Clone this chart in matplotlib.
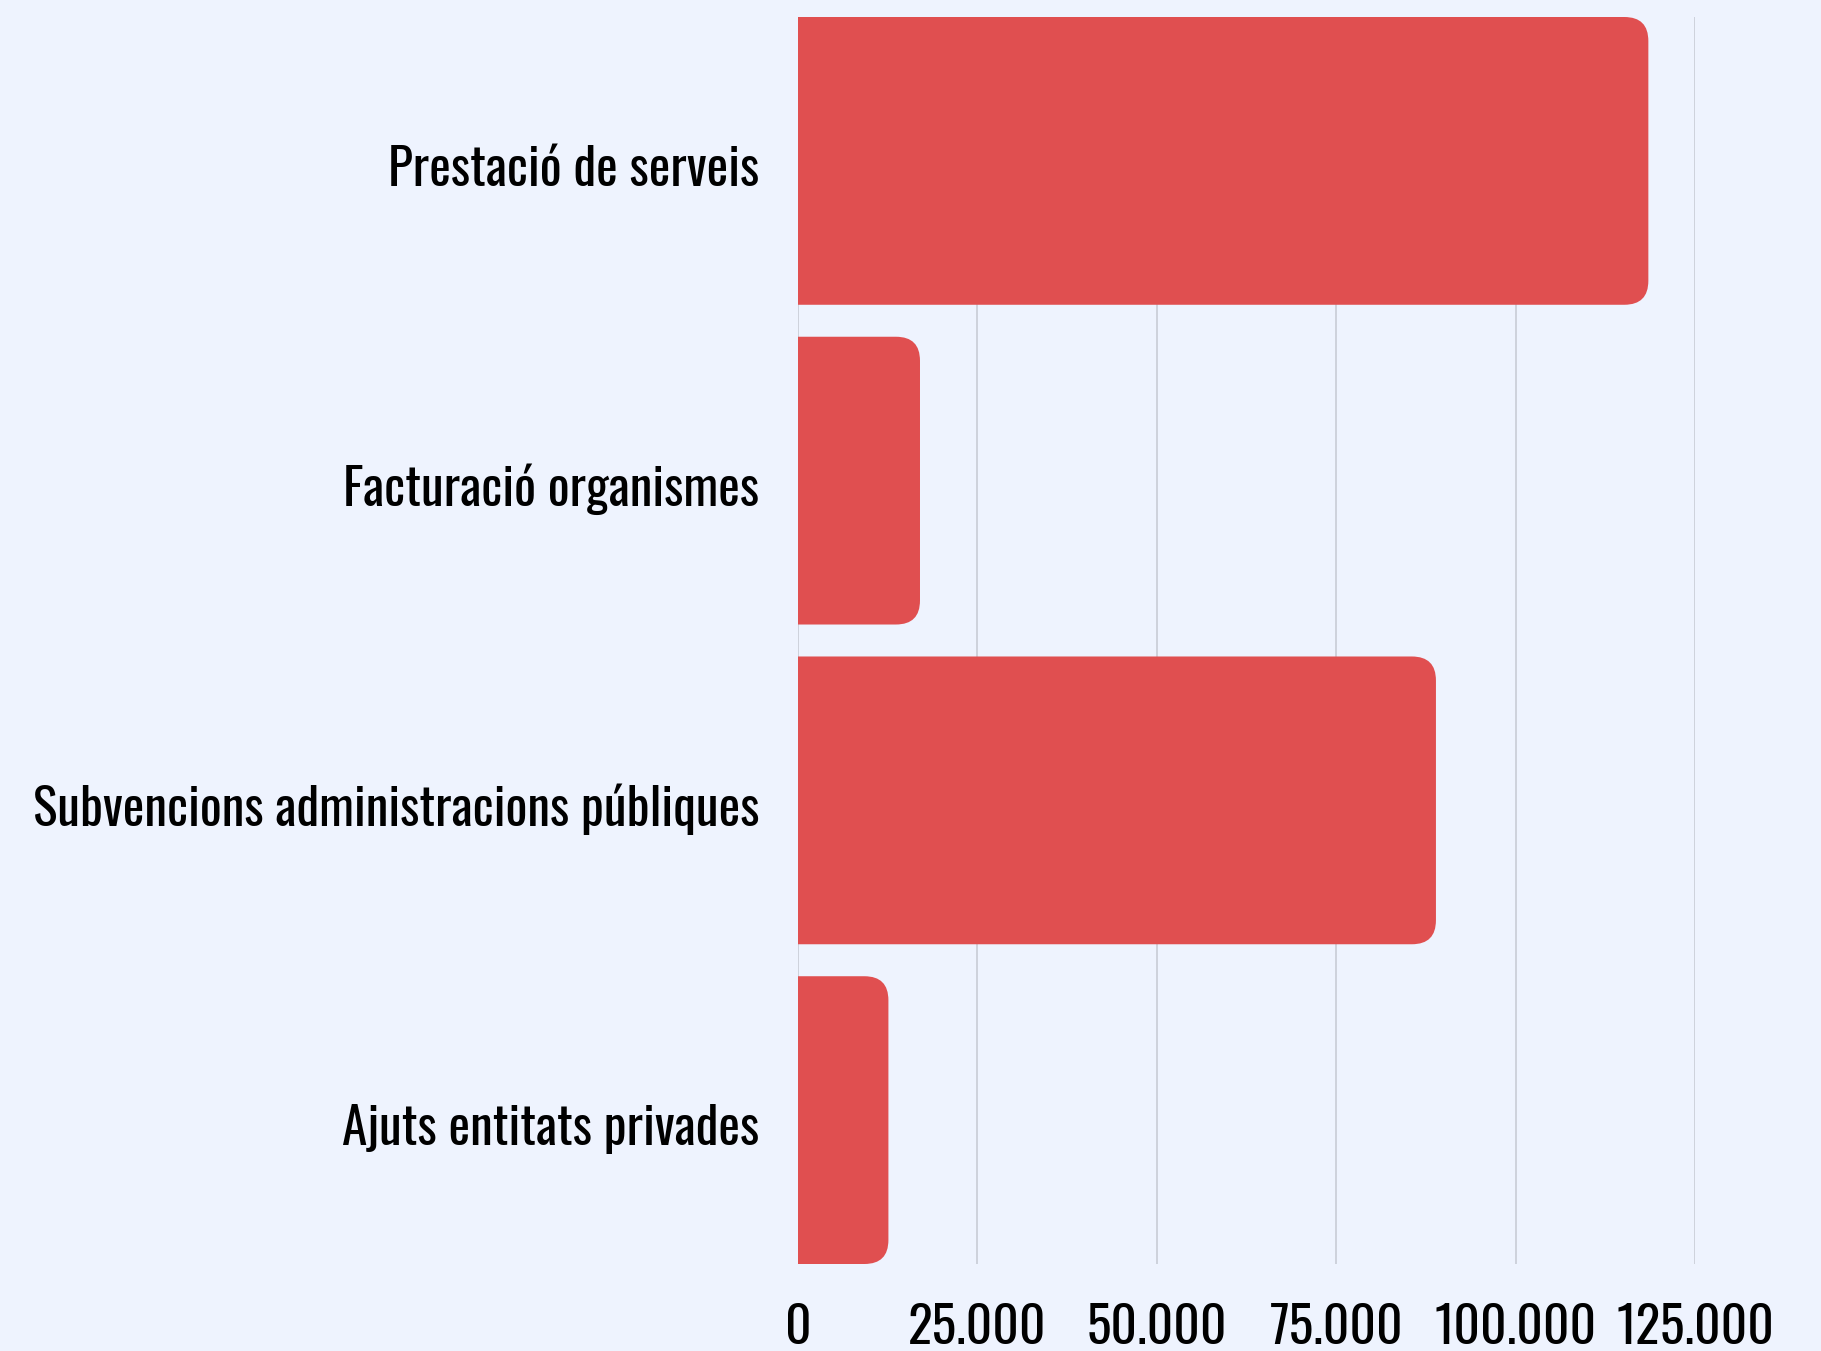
import matplotlib
matplotlib.use("Agg")
import matplotlib.pyplot as plt
from matplotlib.patches import FancyBboxPatch
from matplotlib.ticker import FuncFormatter
from matplotlib.transforms import ScaledTranslation

categories = ["Prestació de serveis", "Facturació organismes",
              "Subvencions administracions públiques", "Ajuts entitats privades"]
values = [118500, 17000, 88900, 12600]
xticks = [0, 25000, 50000, 75000, 100000, 125000]

bg = "#EEF3FE"
bar_color = "#E04F50"
grid_color = "#C8CCD6"

plt.rcParams['font.family'] = ['Oswald', 'DejaVu Sans']

fig = plt.figure(figsize=(18.21, 13.51), dpi=100, facecolor=bg)
ax = fig.add_axes([798 / 1821, 87 / 1351, 897 / 1821, 1247 / 1351])
ax.set_facecolor(bg)

ypos = list(range(len(categories)))
bar_h = 0.9
ax.set_xlim(0, 125000)
ax.set_ylim(len(categories) - 0.55, -0.45)

# pixel scale of the data units, used for rounded corners
x_per_px = 125000 / 897
y_per_px = (len(categories) - 0.1) / 1247
radius = 24 * x_per_px

bars = ax.barh(ypos, values, height=bar_h, color="none")
for b in bars:
    x0, y0 = b.get_x(), b.get_y()
    w, h = b.get_width(), b.get_height()
    b.remove()
    patch = FancyBboxPatch((x0 - radius * 2, y0), w + radius * 2, h,
                           boxstyle=f"round,pad=0,rounding_size={radius}",
                           mutation_aspect=y_per_px / x_per_px,
                           facecolor=bar_color, edgecolor="none", zorder=3)
    ax.add_patch(patch)

ax.set_xticks(xticks)
ax.xaxis.set_major_formatter(FuncFormatter(lambda v, p: f"{int(v):,}".replace(",", ".")))
ax.set_yticks(ypos)
ax.set_yticklabels(categories)
ax.grid(axis="x", color=grid_color, linewidth=1.2, zorder=0)
ax.set_axisbelow(True)
ax.tick_params(axis="both", length=0, labelsize=37, colors="black")
ax.tick_params(axis="y", pad=28)
ax.tick_params(axis="x", pad=28)
for s in ax.spines.values():
    s.set_visible(False)

# nudge the category labels down a touch
shift = ScaledTranslation(0, -3 / 72, fig.dpi_scale_trans)
for lbl in ax.get_yticklabels():
    lbl.set_transform(lbl.get_transform() + shift)

fig.savefig("out.png", dpi=100, facecolor=bg)
